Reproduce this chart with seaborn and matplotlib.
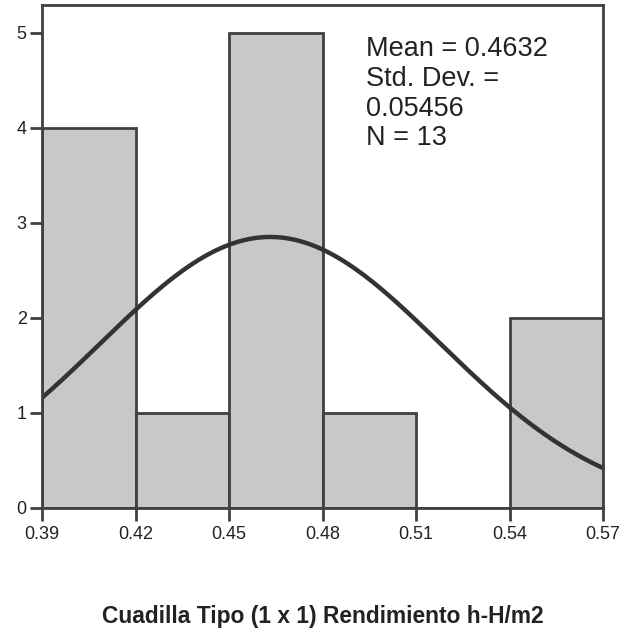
import numpy as np
import seaborn as sns
import matplotlib.pyplot as plt

# Histogram data
bin_edges = [0.39, 0.42, 0.45, 0.48, 0.51, 0.54, 0.57]
counts = [4, 1, 5, 1, 0, 2]
mean_val = 0.4632
std_val = 0.05456
n_obs = 13
x_ticks = [0.39, 0.42, 0.45, 0.48, 0.51, 0.54, 0.57]
y_ticks = [0, 1, 2, 3, 4, 5]

sns.set_style("white")
plt.rcParams['font.family'] = ['Liberation Sans', 'DejaVu Sans']

edge = '#404040'
fig = plt.figure(figsize=(6.29, 6.30), dpi=100)
ax = fig.add_axes([0.0668, 0.1937, 0.892, 0.798])

centers = [(a + b) / 2 for a, b in zip(bin_edges[:-1], bin_edges[1:])]
sns.histplot(x=centers, weights=counts, bins=bin_edges, ax=ax,
             color='#c8c8ca', alpha=1, edgecolor=edge, linewidth=2)

# normal curve scaled to counts
xs = np.linspace(bin_edges[0], bin_edges[-1], 300)
width = bin_edges[1] - bin_edges[0]
ys = n_obs * width / (std_val * np.sqrt(2 * np.pi)) * np.exp(-0.5 * ((xs - mean_val) / std_val) ** 2)
ax.plot(xs, ys, color='#333333', linewidth=3.2, solid_capstyle='butt')

ax.set_xlim(bin_edges[0], bin_edges[-1])
ax.set_ylim(0, 5.29)
ax.set_xticks(x_ticks)
ax.set_xticklabels([f"{t:.2f}" for t in x_ticks])
ax.set_yticks(y_ticks)
ax.tick_params(axis='both', bottom=True, left=True, labelsize=13, labelcolor='#222222',
               direction='out', width=2, color=edge, length=9)
ax.tick_params(axis='y', pad=2)
ax.tick_params(axis='x', pad=4)
for s in ax.spines.values():
    s.set_color(edge)
    s.set_linewidth(2)
ax.set_ylabel('')
ax.set_xlabel('')

ax.text(0.578, 0.938, f"Mean = {mean_val}\nStd. Dev. =\n{std_val}\nN = {n_obs}",
        transform=ax.transAxes, ha='left', va='top', fontsize=19.5,
        color='#222222', linespacing=1.18)

fig.text(0.5135, 0.022, 'Cuadilla Tipo (1 x 1) Rendimiento h-H/m2',
         ha='center', va='center', fontsize=16.4, fontweight='bold', color='#222222')

fig.savefig('out.png', dpi=100, facecolor='white')
